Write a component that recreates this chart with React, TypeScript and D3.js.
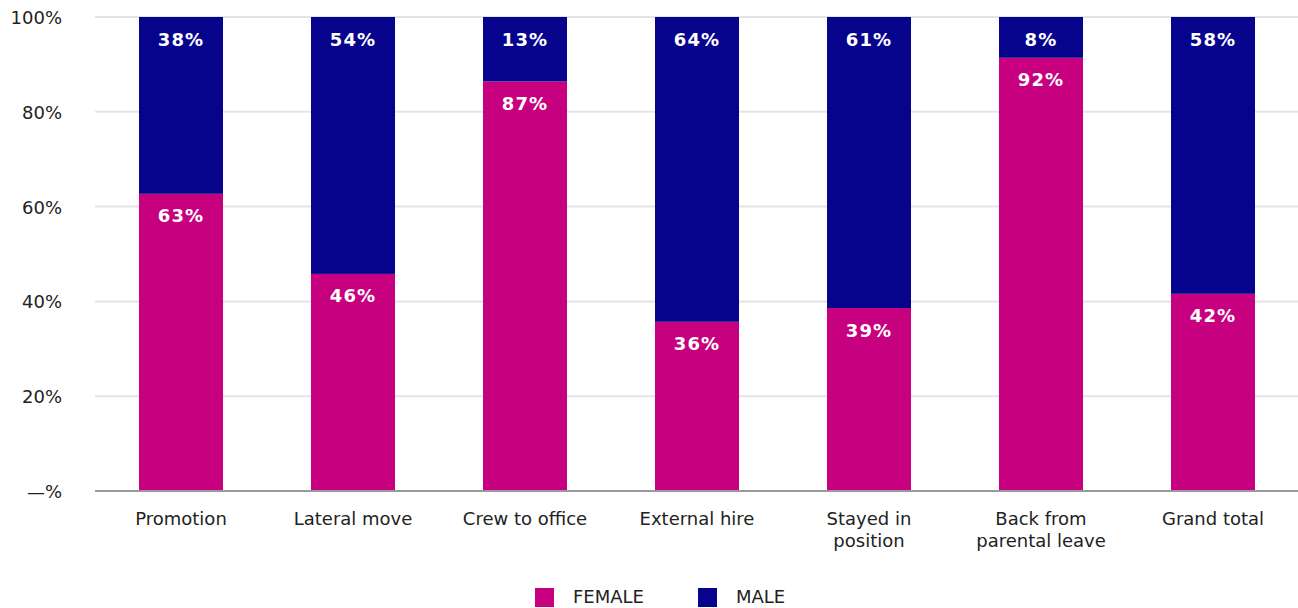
import React from "react";
import * as d3 from "d3";

const categories = [
  "Promotion",
  "Lateral move",
  "Crew to office",
  "External hire",
  "Stayed in position",
  "Back from parental leave",
  "Grand total",
];
const femaleValues = [62.7, 45.8, 86.4, 35.7, 38.6, 91.4, 41.6];
const maleValues = [37.3, 54.2, 13.6, 64.3, 61.4, 8.6, 58.4];
const femaleLabels = ["63%", "46%", "87%", "36%", "39%", "92%", "42%"];
const maleLabels = ["38%", "54%", "13%", "64%", "61%", "8%", "58%"];
const yTicks = [0, 20, 40, 60, 80, 100];
const seriesNames = ["FEMALE", "MALE"];

const W = 1298;
const H = 608;
const FEMALE = "#C6007E";
const MALE = "#06038D";
const FONT = "'DejaVu Sans', Verdana, sans-serif";

function wrap(text: string, maxW: number): string[] {
  const canvas = document.createElement("canvas");
  const ctx = canvas.getContext("2d")!;
  ctx.font = "18px 'DejaVu Sans'";
  const words = text.split(" ");
  const lines: string[] = [];
  let cur = "";
  for (const w of words) {
    const t = cur ? cur + " " + w : w;
    if (cur && ctx.measureText(t).width > maxW) {
      lines.push(cur);
      cur = w;
    } else cur = t;
  }
  if (cur) lines.push(cur);
  return lines;
}

export default function App() {
  const x = d3
    .scaleBand<string>()
    .domain(categories)
    .range([95, 1299])
    .paddingInner(88 / 172)
    .paddingOuter(44 / 172);
  const y = d3.scaleLinear().domain([0, 100]).range([491, 17]);

  const stacks = categories.map((c, i) => {
    const f = femaleValues[i];
    const m = maleValues[i];
    return { c, f, m, i };
  });

  return (
    <svg
      width={W}
      height={H}
      style={{ position: "absolute", left: 0, top: 0, background: "#fff" }}
      fontFamily={FONT}
    >
      {yTicks.map((t) => (
        <g key={t}>
          {t > 0 && (
            <line x1={95} x2={W} y1={y(t)} y2={y(t)} stroke="#e4e4e4" strokeWidth={2} />
          )}
          <text x={62} y={y(t) + 7} textAnchor="end" fontSize={18} fill="#222">
            {t === 0 ? "—%" : `${t}%`}
          </text>
        </g>
      ))}
      {stacks.map((s) => {
        const x0 = x(s.c)!;
        const bw = x.bandwidth();
        const cx = x0 + bw / 2;
        const fTop = y(s.f);
        const mTop = y(s.f + s.m);
        return (
          <g key={s.c}>
            <rect x={x0} y={fTop} width={bw} height={y(0) - fTop} fill={FEMALE} />
            <rect x={x0} y={mTop} width={bw} height={fTop - mTop} fill={MALE} />
            <text
              x={cx}
              y={mTop + 29}
              textAnchor="middle"
              fontSize={18}
              fontWeight="bold"
              fill="#fff"
              letterSpacing={1.2}
            >
              {maleLabels[s.i]}
            </text>
            <text
              x={cx}
              y={fTop + 28.5}
              textAnchor="middle"
              fontSize={18}
              fontWeight="bold"
              fill="#fff"
              letterSpacing={1.2}
            >
              {femaleLabels[s.i]}
            </text>
            {wrap(s.c, 140).map((ln, k) => (
              <text
                key={k}
                x={cx}
                y={525 + k * 21.5}
                textAnchor="middle"
                fontSize={18}
                fill="#222"
              >
                {ln}
              </text>
            ))}
          </g>
        );
      })}
      <line x1={95} x2={W} y1={y(0)} y2={y(0)} stroke="#9a9a9a" strokeWidth={2} />
      {seriesNames.map((n, i) => {
        const lx = i === 0 ? 535 : 698;
        return (
          <g key={n}>
            <rect x={lx} y={588} width={19} height={19} fill={i === 0 ? FEMALE : MALE} />
            <text x={lx + 38} y={603} fontSize={18} fill="#222">
              {n}
            </text>
          </g>
        );
      })}
    </svg>
  );
}
